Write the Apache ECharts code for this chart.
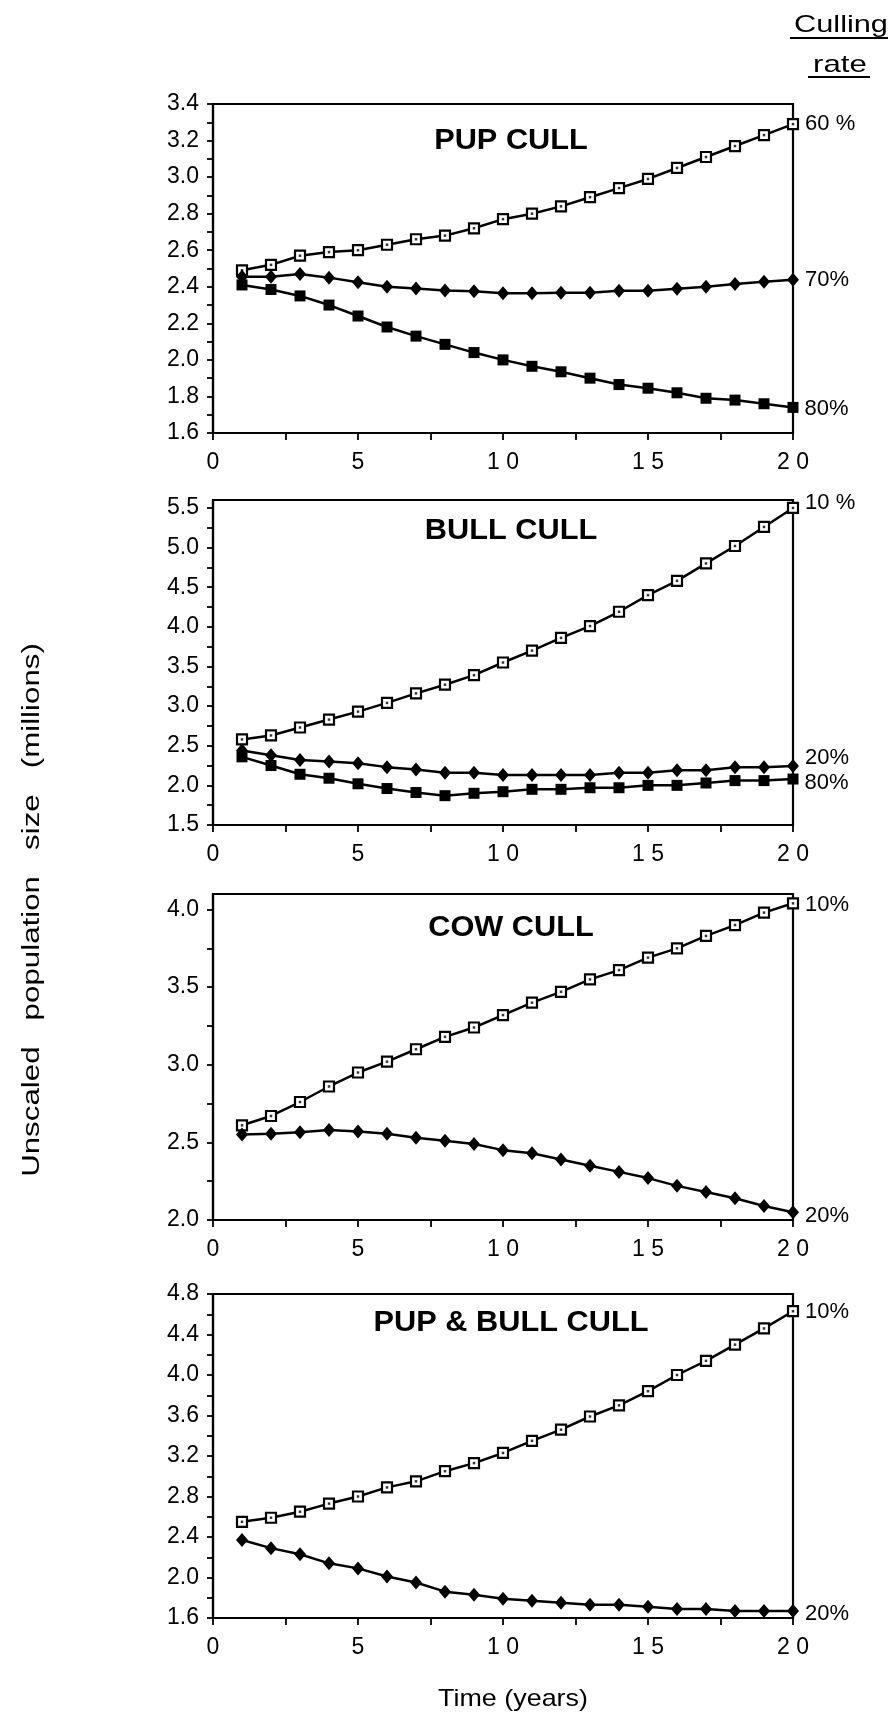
<!DOCTYPE html>
<html>
<head>
<meta charset="utf-8">
<title>Unscaled population size under culling</title>
<script src="https://cdn.jsdelivr.net/npm/echarts@6/dist/echarts.min.js"></script>
<style>
  html, body { margin: 0; padding: 0; background: #ffffff; }
  #chart { width: 892px; height: 1716px; }
</style>
</head>
<body>
<div id="chart"></div>
<script>
// ---- data: years 1..20, population in millions ----
const years = [1, 2, 3, 4, 5, 6, 7, 8, 9, 10, 11, 12, 13, 14, 15, 16, 17, 18, 19, 20];

// PUP CULL
const pup60 = [2.49, 2.52, 2.57, 2.59, 2.60, 2.63, 2.66, 2.68, 2.72, 2.77, 2.80, 2.84, 2.89, 2.94, 2.99, 3.05, 3.11, 3.17, 3.23, 3.29];
const pup70 = [2.455, 2.455, 2.47, 2.45, 2.425, 2.40, 2.39, 2.38, 2.375, 2.365, 2.365, 2.367, 2.367, 2.378, 2.378, 2.389, 2.40, 2.415, 2.427, 2.438];
const pup80 = [2.41, 2.385, 2.35, 2.30, 2.24, 2.18, 2.13, 2.085, 2.04, 2.00, 1.965, 1.935, 1.90, 1.865, 1.845, 1.82, 1.79, 1.78, 1.76, 1.74];

// BULL CULL
const bull10 = [2.58, 2.63, 2.73, 2.83, 2.93, 3.04, 3.16, 3.27, 3.39, 3.55, 3.70, 3.86, 4.01, 4.19, 4.40, 4.58, 4.80, 5.02, 5.26, 5.50];
const bull20 = [2.44, 2.38, 2.32, 2.30, 2.28, 2.23, 2.20, 2.16, 2.16, 2.13, 2.13, 2.13, 2.13, 2.16, 2.16, 2.19, 2.19, 2.23, 2.23, 2.245];
const bull80 = [2.36, 2.25, 2.14, 2.09, 2.02, 1.96, 1.91, 1.87, 1.90, 1.92, 1.95, 1.95, 1.97, 1.97, 2.00, 2.00, 2.03, 2.06, 2.06, 2.08];

// COW CULL
const cow10 = [2.61, 2.67, 2.76, 2.86, 2.95, 3.02, 3.10, 3.18, 3.24, 3.32, 3.40, 3.47, 3.55, 3.61, 3.69, 3.75, 3.83, 3.90, 3.98, 4.04];
const cow20 = [2.55, 2.555, 2.565, 2.58, 2.57, 2.555, 2.53, 2.51, 2.49, 2.45, 2.43, 2.39, 2.35, 2.31, 2.27, 2.22, 2.18, 2.14, 2.09, 2.05];

// PUP & BULL CULL
const pb10 = [2.55, 2.59, 2.65, 2.73, 2.80, 2.89, 2.95, 3.05, 3.13, 3.23, 3.35, 3.46, 3.59, 3.70, 3.84, 4.00, 4.14, 4.30, 4.46, 4.63];
const pb20 = [2.37, 2.29, 2.23, 2.14, 2.09, 2.01, 1.95, 1.86, 1.83, 1.79, 1.77, 1.75, 1.73, 1.73, 1.71, 1.69, 1.69, 1.67, 1.67, 1.67];

// ---- tick labels ----
const xLabels = [0, 5, 10, 15, 20];
const pupTicks = [1.6, 1.8, 2.0, 2.2, 2.4, 2.6, 2.8, 3.0, 3.2, 3.4];
const bullTicks = [1.5, 2.0, 2.5, 3.0, 3.5, 4.0, 4.5, 5.0, 5.5];
const cowTicks = [2.0, 2.5, 3.0, 3.5, 4.0];
const pbTicks = [1.6, 2.0, 2.4, 2.8, 3.2, 3.6, 4.0, 4.4, 4.8];

// panel headings and end-of-line rate labels
const panelTitles = ['PUP CULL', 'BULL CULL', 'COW CULL', 'PUP & BULL CULL'];
const pupRates = ['60 %', '70%', '80%'];
const bullRates = ['10 %', '20%', '80%'];
const cowRates = ['10%', '20%'];
const pbRates = ['10%', '20%'];

// ---- layout ----
const FONT = "'Liberation Sans', Arial, Helvetica, sans-serif";
const panels = [
  { top: 104, height: 329, min: 1.6, max: 3.4, step: 0.2, ticks: pupTicks, titleY: 141 },
  { top: 500, height: 325, min: 1.5, max: 5.6, step: 0.5, ticks: bullTicks, titleY: 531 },
  { top: 894, height: 326, min: 2.0, max: 4.1, step: 0.5, ticks: cowTicks, titleY: 928 },
  { top: 1294, height: 324, min: 1.6, max: 4.8, step: 0.4, ticks: pbTicks, titleY: 1323 }
];

function withHalves(values) {
  const out = [];
  values.forEach((v, i) => {
    out.push(v);
    if (i < values.length - 1) out.push(+((v + values[i + 1]) / 2).toFixed(3));
  });
  return out;
}

const grids = panels.map(p => ({
  left: 213, width: 580, top: p.top, height: p.height,
  show: true, borderColor: '#000', borderWidth: 2.2, backgroundColor: 'transparent'
}));

const xAxes = panels.map((p, i) => ({
  type: 'value', gridIndex: i, min: 0, max: 20, interval: 5,
  axisLine: { show: true, onZero: false, lineStyle: { color: '#000', width: 2.2 } },
  axisTick: { show: true, length: 7, inside: false, customValues: withHalves(xLabels),
              lineStyle: { color: '#000', width: 1.8 } },
  axisLabel: { show: true, customValues: xLabels, margin: 18, color: '#000',
               fontSize: 23, fontFamily: FONT,
               formatter: v => String(v).split('').join(' ') },
  splitLine: { show: false }
}));

const yAxes = panels.map((p, i) => ({
  type: 'value', gridIndex: i, min: p.min, max: p.max, interval: p.step,
  axisLine: { show: true, onZero: false, lineStyle: { color: '#000', width: 2.2 } },
  axisTick: { show: true, length: 6, inside: false, customValues: withHalves(p.ticks),
              lineStyle: { color: '#000', width: 1.8 } },
  axisLabel: { show: true, customValues: p.ticks, margin: 14, color: '#000',
               fontSize: 23, fontFamily: FONT,
               formatter: v => v.toFixed(1) },
  splitLine: { show: false }
}));

const MARKS = {
  open:    { symbol: 'rect', symbolSize: 10, itemStyle: { color: '#fff', borderColor: '#000', borderWidth: 2.2 } },
  diamond: { symbol: 'diamond', symbolSize: [12, 14], itemStyle: { color: '#000', borderColor: '#000', borderWidth: 0 } },
  filled:  { symbol: 'rect', symbolSize: 11, itemStyle: { color: '#000', borderColor: '#000', borderWidth: 0 } }
};

const series = [];
function addLine(gridIdx, values, kind, rateText, dy) {
  const data = years.map((y, k) => [y, values[k]]);
  const last = data.length - 1;
  const m = MARKS[kind];
  series.push({
    type: 'line', xAxisIndex: gridIdx, yAxisIndex: gridIdx,
    data: data, showSymbol: true, symbol: m.symbol, symbolSize: m.symbolSize,
    itemStyle: m.itemStyle,
    lineStyle: { color: '#000', width: 2.5 },
    label: {
      show: true, position: 'right', distance: 6, offset: [0, dy],
      color: '#000', fontSize: 22, fontFamily: FONT,
      formatter: p => (p.dataIndex === last ? rateText : '')
    },
    emphasis: { disabled: true }, silent: true, z: 3
  });
  if (kind === 'open') {
    // small centre dot inside the hollow square markers
    series.push({
      type: 'scatter', xAxisIndex: gridIdx, yAxisIndex: gridIdx,
      data: data, symbol: 'rect', symbolSize: 2.5,
      itemStyle: { color: '#000' }, silent: true, z: 4
    });
  }
}

addLine(0, pup60, 'open', pupRates[0], 0);
addLine(0, pup70, 'diamond', pupRates[1], 0);
addLine(0, pup80, 'filled', pupRates[2], 2);

addLine(1, bull10, 'open', bullRates[0], -5);
addLine(1, bull20, 'diamond', bullRates[1], -8);
addLine(1, bull80, 'filled', bullRates[2], 4);

addLine(2, cow10, 'open', cowRates[0], 2);
addLine(2, cow20, 'diamond', cowRates[1], 4);

addLine(3, pb10, 'open', pbRates[0], 1);
addLine(3, pb20, 'diamond', pbRates[1], 3);

const graphics = [
  // vertical axis title
  { type: 'text', x: 33, y: 910, rotation: Math.PI / 2, scaleX: 1.36,
    style: { text: 'Unscaled   population   size   (millions)', font: '23px ' + FONT,
             fill: '#000', align: 'center', verticalAlign: 'middle' } },
  // horizontal axis title
  { type: 'text', x: 513, y: 1699, scaleX: 1.12,
    style: { text: 'Time (years)', font: '24px ' + FONT, fill: '#000',
             align: 'center', verticalAlign: 'middle' } },
  // "Culling rate" header, underlined
  { type: 'text', x: 841, y: 25, scaleX: 1.28,
    style: { text: 'Culling', font: '24px ' + FONT, fill: '#000', align: 'center', verticalAlign: 'middle' } },
  { type: 'line', shape: { x1: 790, y1: 38, x2: 888, y2: 38 }, style: { stroke: '#000', lineWidth: 1.8 } },
  { type: 'text', x: 840, y: 65, scaleX: 1.3,
    style: { text: 'rate', font: '24px ' + FONT, fill: '#000', align: 'center', verticalAlign: 'middle' } },
  { type: 'line', shape: { x1: 808, y1: 77, x2: 870, y2: 77 }, style: { stroke: '#000', lineWidth: 1.8 } }
];
panels.forEach((p, i) => {
  graphics.push({
    type: 'text', x: 511, y: p.titleY, scaleX: 1.06,
    style: { text: panelTitles[i], font: 'bold 29px ' + FONT, fill: '#000',
             align: 'center', verticalAlign: 'middle' }
  });
});

const chart = echarts.init(document.getElementById('chart'), null, { renderer: 'canvas' });
chart.setOption({
  animation: false,
  backgroundColor: '#ffffff',
  grid: grids,
  xAxis: xAxes,
  yAxis: yAxes,
  series: series,
  graphic: graphics
});
</script>
</body>
</html>
